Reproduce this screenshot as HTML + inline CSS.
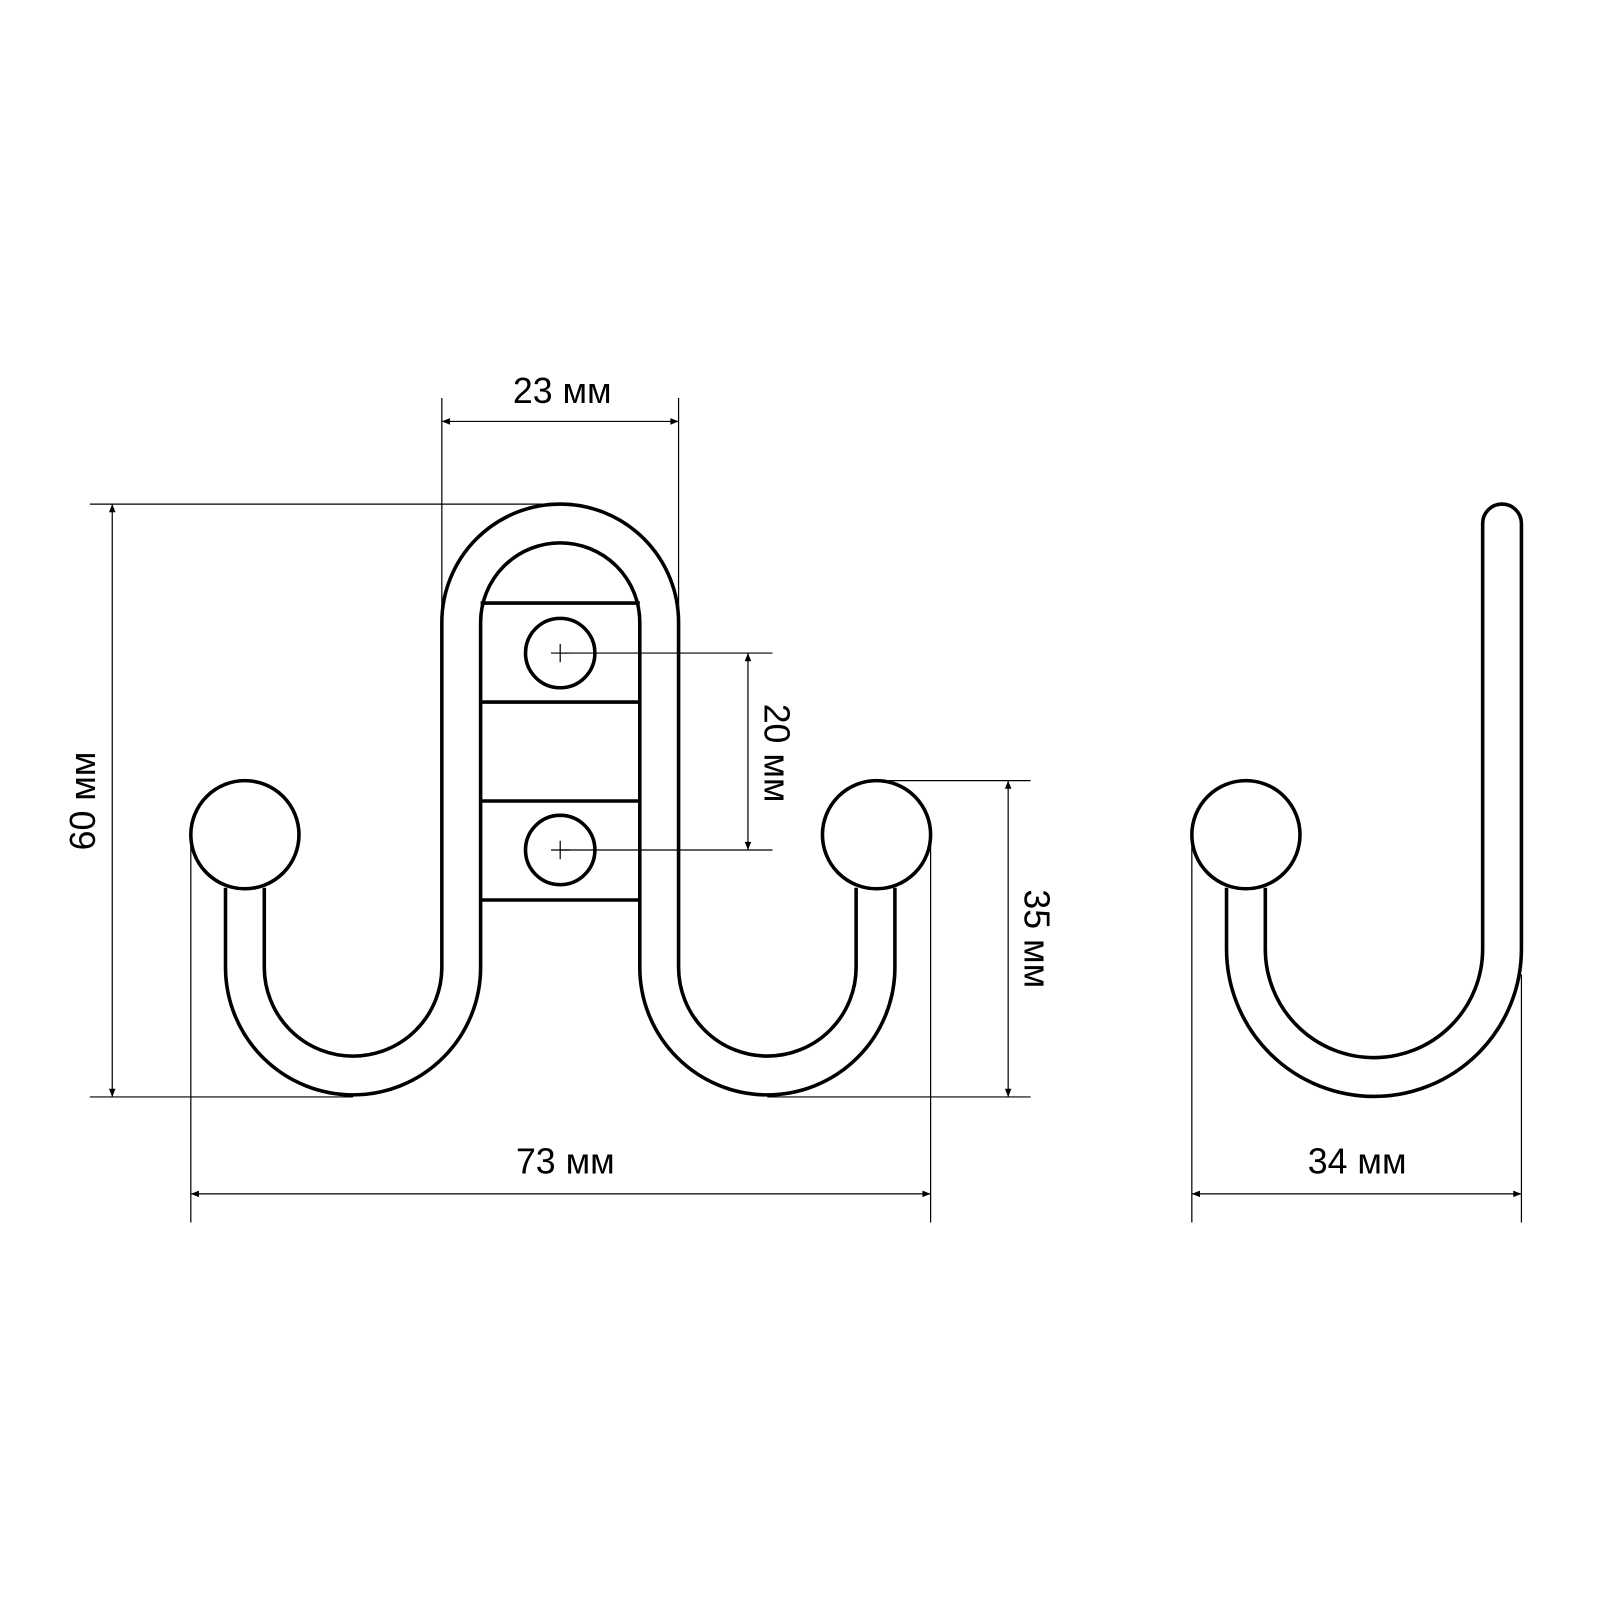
<!DOCTYPE html>
<html><head><meta charset="utf-8"><style>
html,body{margin:0;padding:0;background:#fff;}
svg{display:block;}
text{font-family:"Liberation Sans",sans-serif;font-size:35px;fill:#000;}
</style></head><body>
<svg width="1600" height="1600" viewBox="0 0 1568 1568" xmlns="http://www.w3.org/2000/svg">
<defs>
<marker id="a" viewBox="0 0 10 10" refX="10" refY="5" markerWidth="10" markerHeight="8" orient="auto-start-reverse" markerUnits="userSpaceOnUse"><path d="M0,1 L10,5 L0,9 z" fill="#000"/></marker>
</defs>
<g fill="none" stroke="#000" stroke-width="3.5">
<path d="M221,870 L221,948 A125,125 0 0 0 471,948 L471,610 A78,78 0 0 1 627,610 L627,948 A125,125 0 0 0 877,948 L877,870"/>
<path d="M259,870 L259,948 A87,87 0 0 0 433,948 L433,610 A116,116 0 0 1 665,610 L665,948 A87,87 0 0 0 839,948 L839,870"/>
<line x1="471" y1="591" x2="627" y2="591"/>
<line x1="471" y1="688" x2="627" y2="688"/>
<line x1="471" y1="785" x2="627" y2="785"/>
<line x1="471" y1="882" x2="627" y2="882"/>
<circle cx="549" cy="640" r="34"/>
<circle cx="549" cy="833" r="34"/>
<circle cx="240" cy="818" r="53" fill="#fff"/>
<circle cx="859" cy="818" r="53" fill="#fff"/>
<path d="M1202,870 L1202,930 A144.5,144.5 0 0 0 1491,930 L1491,513 A19,19 0 0 0 1453,513 L1453,930 A106.5,106.5 0 0 1 1240,930 L1240,870"/>
<circle cx="1221" cy="818" r="53" fill="#fff"/>
</g>
<g stroke="#000" stroke-width="1.2" fill="none">
<line x1="540" y1="640" x2="558" y2="640"/><line x1="549" y1="631" x2="549" y2="649"/>
<line x1="540" y1="833" x2="558" y2="833"/><line x1="549" y1="824" x2="549" y2="842"/>
<line x1="433" y1="390" x2="433" y2="605"/><line x1="665" y1="390" x2="665" y2="605"/>
<line x1="433" y1="413" x2="665" y2="413" marker-start="url(#a)" marker-end="url(#a)"/>
<line x1="88" y1="494" x2="549" y2="494"/><line x1="88" y1="1075" x2="346" y2="1075"/>
<line x1="110" y1="494" x2="110" y2="1075" marker-start="url(#a)" marker-end="url(#a)"/>
<line x1="549" y1="640" x2="757" y2="640"/><line x1="549" y1="833" x2="757" y2="833"/>
<line x1="733" y1="640" x2="733" y2="833" marker-start="url(#a)" marker-end="url(#a)"/>
<line x1="859" y1="765" x2="1010" y2="765"/><line x1="752" y1="1075" x2="1010" y2="1075"/>
<line x1="988" y1="765" x2="988" y2="1075" marker-start="url(#a)" marker-end="url(#a)"/>
<line x1="187" y1="818" x2="187" y2="1198"/><line x1="912" y1="818" x2="912" y2="1198"/>
<line x1="187" y1="1170" x2="912" y2="1170" marker-start="url(#a)" marker-end="url(#a)"/>
<line x1="1168" y1="818" x2="1168" y2="1198"/><line x1="1491" y1="955" x2="1491" y2="1198"/>
<line x1="1168" y1="1170" x2="1491" y2="1170" marker-start="url(#a)" marker-end="url(#a)"/>
</g>
<text x="551" y="395" text-anchor="middle">23 мм</text>
<text x="554" y="1150" text-anchor="middle">73 мм</text>
<text x="1330" y="1150" text-anchor="middle">34 мм</text>
<text transform="translate(93,785) rotate(-90)" text-anchor="middle">60 мм</text>
<text transform="translate(749,738) rotate(90)" text-anchor="middle">20 мм</text>
<text transform="translate(1004,920) rotate(90)" text-anchor="middle">35 мм</text>
</svg>
</body></html>
